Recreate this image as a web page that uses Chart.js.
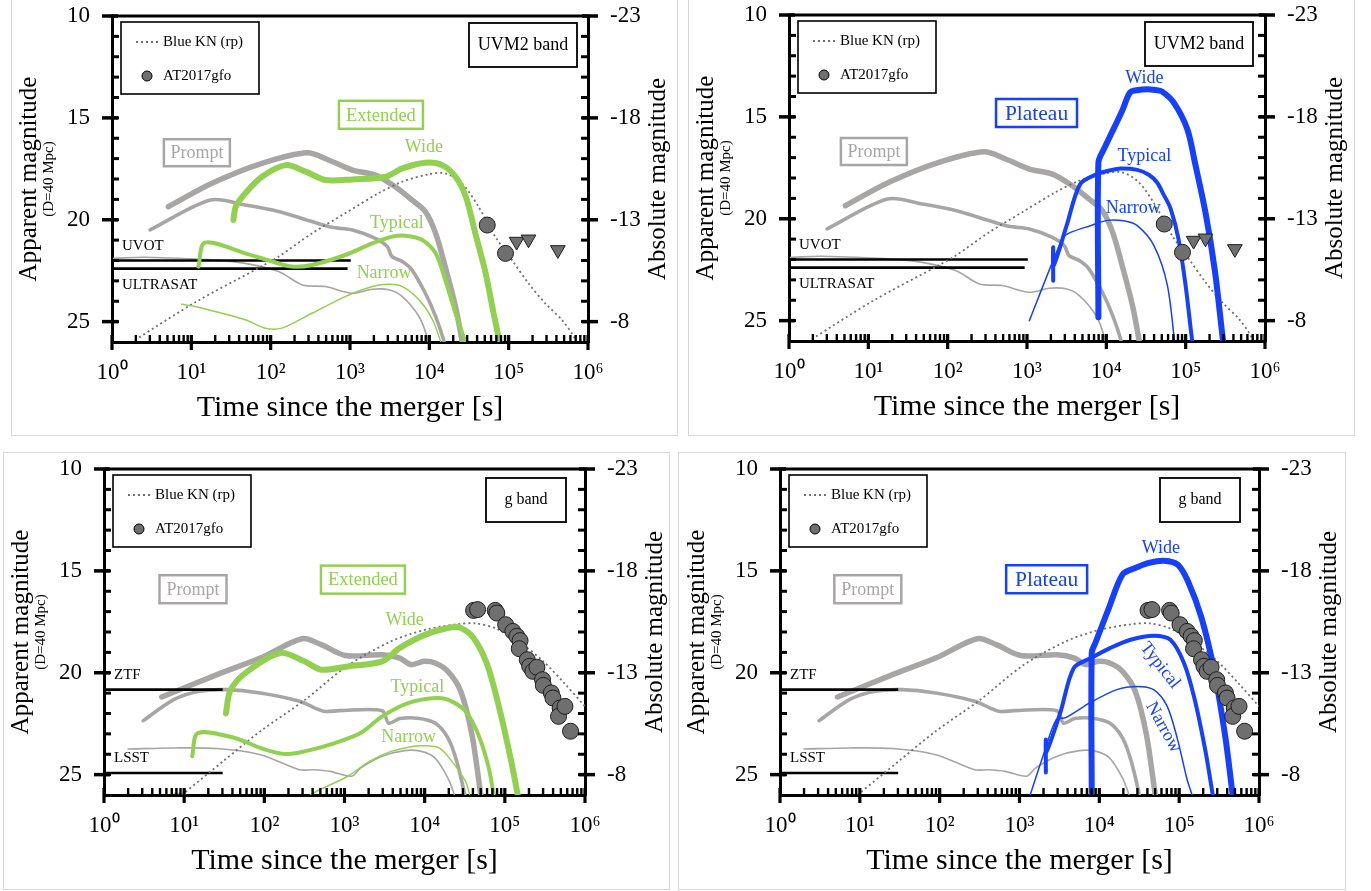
<!DOCTYPE html>
<html>
<head>
<meta charset="utf-8">
<title>GRB afterglow vs kilonova light curves</title>
<script src="https://cdn.jsdelivr.net/npm/chart.js@4.4.1/dist/chart.umd.min.js"></script>
<style>
  body { margin: 0; background: #fff; }
  #page { position: relative; width: 1371px; height: 891px; overflow: hidden; background: #fff; }
  .frame { position: absolute; border: 1px solid #d6d6d6; box-sizing: border-box; }
  canvas { position: absolute; }
</style>
</head>
<body>
<div id="page">
  <div class="frame" style="left:11px;top:-2px;width:667px;height:438px"></div>
  <div class="frame" style="left:688px;top:-2px;width:667px;height:438px"></div>
  <div class="frame" style="left:3px;top:452px;width:667px;height:438px"></div>
  <div class="frame" style="left:678px;top:452px;width:668px;height:438px"></div>
  <canvas id="uvExtended"></canvas>
  <canvas id="uvPlateau"></canvas>
  <canvas id="gExtended"></canvas>
  <canvas id="gPlateau"></canvas>
</div>
<script>
// all curves are [log10(t / s), apparent magnitude]

// axis ticks
const xTickValues = [1, 10, 100, 1000, 1e4, 1e5, 1e6];
const xTickLabels = ['10⁰', '10¹', '10²', '10³', '10⁴', '10⁵', '10⁶'];
const appMagTicks = [10, 15, 20, 25];
const absMagTicks = [-23, -18, -13, -8];

// UVM2 band - prompt emission (gray)
const promptWideUV = [[0.71,19.36],[1.26,18.21],[1.89,17.23],[2.46,16.71],[2.73,17.07],[3.03,17.56],[3.32,17.81],[3.57,18.38],[3.78,19.03],[3.95,19.6],[4.08,20.67],[4.2,22.3],[4.33,24.26],[4.41,25.9],[4.43,26.4]];
const promptTypicalUV = [[0.48,20.5],[1.24,19.03],[1.68,19.28],[2.1,19.6],[2.52,20.09],[2.77,20.37],[3.03,20.5],[3.32,20.91],[3.47,21.32],[3.53,21.81],[3.66,22.05],[3.78,22.46],[3.95,23.61],[4.08,24.75],[4.18,25.9],[4.2,26.4]];
const promptNarrowUV = [[0.02,21.89],[0.42,21.84],[1.26,21.97],[1.68,22.14],[2.1,22.54],[2.4,23.2],[2.69,23.28],[3.03,23.61],[3.28,23.41],[3.49,23.44],[3.66,23.77],[3.87,24.75],[3.97,25.73],[4.0,26.4]];

// UVM2 band - extended emission (green)
const extWideUV = [[1.53,20.01],[1.56,19.36],[1.68,18.7],[1.89,17.89],[2.19,17.32],[2.44,17.64],[2.69,18.05],[3.03,18.02],[3.45,17.89],[3.66,17.48],[3.95,17.2],[4.16,17.32],[4.33,17.89],[4.46,18.87],[4.58,20.67],[4.71,22.63],[4.81,24.59],[4.88,25.9],[4.9,26.4]];
const extTypicalUV = [[1.09,22.3],[1.17,21.12],[1.68,21.65],[2.02,22.05],[2.27,22.3],[2.52,22.22],[2.94,21.73],[3.28,21.16],[3.53,20.83],[3.7,20.78],[3.91,20.99],[4.08,21.65],[4.2,22.95],[4.33,24.59],[4.49,26.4]];
const extNarrowUV = [[0.88,24.15],[1.05,24.26],[1.68,24.91],[1.93,25.32],[2.14,25.32],[2.52,24.59],[2.94,23.77],[3.28,23.28],[3.49,23.17],[3.66,23.28],[3.87,23.93],[4.04,24.91],[4.18,26.4]];

// UVM2 band - plateau emission (blue)
const platWideUV = [[3.9,24.83],[3.9,17.24],[3.97,16.58],[4.09,15.6],[4.2,14.7],[4.3,13.8],[4.4,13.68],[4.51,13.64],[4.62,13.68],[4.7,13.75],[4.85,14.3],[5.02,15.6],[5.12,17.3],[5.25,19.7],[5.37,22.6],[5.47,25.96],[5.49,26.4]];
const platTypicalUV = [[3.33,23.04],[3.33,21.4],[3.335,22.3],[3.5,20.33],[3.67,18.3],[3.88,17.81],[4.05,17.62],[4.18,17.53],[4.39,17.6],[4.54,17.85],[4.64,18.22],[4.72,18.8],[4.81,19.5],[4.91,21.0],[5.0,23.3],[5.08,25.93],[5.1,26.4]];
const platNarrowUV = [[3.03,25.0],[3.32,22.14],[3.46,20.91],[3.55,20.67],[3.8,20.34],[4.01,20.08],[4.22,20.1],[4.39,20.34],[4.6,21.32],[4.77,23.28],[4.87,26.4]];

// UVM2 band - blue kilonova and AT2017gfo
const knUV = [[0.29,25.9],[1.05,24.05],[1.89,22.28],[2.1,21.81],[2.52,20.67],[2.94,19.68],[3.36,18.7],[3.66,18.13],[3.99,17.77],[4.2,17.72],[4.41,18.21],[4.62,19.36],[4.83,20.83],[5.04,21.97],[5.25,23.12],[5.46,24.1],[5.67,24.91],[5.82,25.73],[5.87,26.2]];
const gfoUV = [[4.73,20.26],[4.96,21.65]];
const gfoUVLimits = [[5.1,21.07],[5.25,20.96],[5.62,21.48]];

// UV survey limits
const uvotLimit = [[0,22.0],[3.01,22.0]];
const ultrasatLimit = [[0,22.4],[2.97,22.4]];

// g band - prompt emission (gray)
const promptWideG = [[0.72,21.19],[1.41,20.09],[1.95,19.28],[2.47,18.33],[2.71,18.62],[3.01,19.15],[3.47,19.12],[3.69,19.28],[3.83,19.6],[3.99,19.44],[4.13,19.52],[4.29,19.93],[4.45,20.91],[4.59,23.04],[4.7,25.98],[4.72,26.4]];
const promptTypicalG = [[0.49,22.35],[0.87,21.32],[1.19,20.91],[1.52,20.83],[1.95,20.99],[2.44,21.4],[2.74,21.89],[2.93,21.86],[3.47,21.86],[3.55,22.47],[3.69,22.25],[3.91,22.23],[4.13,22.47],[4.29,23.2],[4.4,24.35],[4.5,25.98],[4.52,26.4]];
const promptNarrowG = [[0.3,23.74],[0.87,23.69],[1.41,23.72],[1.95,24.02],[2.44,24.76],[2.61,24.76],[2.82,24.84],[3.09,25.08],[3.2,24.68],[3.47,24.1],[3.75,23.82],[3.96,23.86],[4.13,24.19],[4.29,25.17],[4.37,25.98],[4.39,26.4]];

// g band - extended emission (green)
const extWideG = [[1.52,22.0],[1.58,20.83],[1.79,19.93],[2.2,19.03],[2.5,19.44],[2.71,19.85],[3.04,19.69],[3.47,19.44],[3.69,18.78],[4.01,18.13],[4.34,17.77],[4.45,17.8],[4.61,18.29],[4.78,19.6],[4.94,21.89],[5.08,24.35],[5.16,25.98],[5.18,26.4]];
const extTypicalG = [[1.1,24.1],[1.17,22.96],[1.63,23.2],[1.95,23.69],[2.25,23.99],[2.5,23.86],[2.88,23.45],[3.2,22.96],[3.47,22.14],[3.8,21.48],[4.13,21.24],[4.29,21.32],[4.51,21.89],[4.67,23.04],[4.8,24.67],[4.86,25.98],[4.88,26.4]];
const extNarrowG = [[0.88,25.93],[1.0,25.95],[1.12,26.4],[2.5,26.4],[2.58,25.98],[3.04,25.08],[3.31,24.35],[3.58,23.86],[3.86,23.61],[3.96,23.58],[4.18,23.69],[4.34,24.35],[4.51,25.33],[4.56,25.98],[4.58,26.4]];

// g band - plateau emission (blue)
const platWideG = [[3.905,26.4],[3.905,19.0],[3.95,18.54],[4.12,16.82],[4.29,15.18],[4.45,14.86],[4.62,14.61],[4.81,14.5],[4.98,14.69],[5.11,15.51],[5.28,17.31],[5.44,19.93],[5.58,23.2],[5.67,25.98],[5.69,26.4]];
const platTypicalG = [[3.33,24.89],[3.33,23.28],[3.335,23.9],[3.51,21.97],[3.68,19.77],[3.9,19.27],[4.14,18.78],[4.39,18.38],[4.68,18.18],[4.89,18.38],[5.06,19.52],[5.19,21.24],[5.33,23.86],[5.42,25.98],[5.44,26.4]];
const platNarrowG = [[3.1,26.4],[3.3,24.02],[3.46,22.3],[3.58,22.2],[3.88,21.48],[4.22,20.83],[4.47,20.67],[4.68,20.83],[4.85,21.65],[4.98,23.28],[5.1,25.25],[5.16,25.98],[5.18,26.4]];

// g band - blue kilonova and AT2017gfo
const knG = [[0.97,26.0],[1.5,24.3],[1.95,22.87],[2.5,21.35],[3.04,19.65],[3.58,18.46],[4.0,17.9],[4.4,17.62],[4.64,17.58],[4.9,17.85],[5.2,18.55],[5.48,19.44],[5.75,20.55],[6.0,21.65]];
const gfoG = [[4.61,16.94],[4.66,16.9],[4.88,16.94],[4.9,17.07],[5.01,17.64],[5.1,17.97],[5.15,18.21],[5.19,18.42],[5.18,18.82],[5.28,19.36],[5.31,19.68],[5.35,19.93],[5.4,19.73],[5.47,20.34],[5.48,20.62],[5.58,20.99],[5.6,21.24],[5.69,21.73],[5.67,22.14],[5.75,21.65],[5.82,22.87]];

// optical survey limits
const ztfLimit = [[0,20.83],[1.48,20.83]];
const lsstLimit = [[0,24.92],[1.48,24.92]];

const FONT = '"Liberation Serif", "Times New Roman", serif';
const GRAY = '#a8a5a5';
const GREEN = '#92d050';
const BLUE = '#1540ff';
const KN_COLOR = '#707070';
const OBS_FILL = '#6f6f6f';

const LEFT_W = 100, RIGHT_W = 88, TOP_PAD = 15, BOTTOM_H = 90;

Chart.defaults.font.family = FONT;
Chart.defaults.color = '#000';

function pts(arr) {
  return arr.map(([lt, m]) => ({ x: Math.pow(10, lt), y: m }));
}

function curve(label, arr, color, width, extra) {
  return Object.assign({
    label: label, data: pts(arr), borderColor: color, backgroundColor: color,
    borderWidth: width, pointRadius: 0, tension: 0.3, fill: false, clip: 0,
    borderCapStyle: 'round', borderJoinStyle: 'round'
  }, extra || {});
}

function markers(label, arr, style, radius) {
  return {
    label: label, data: pts(arr), showLine: false, pointStyle: style,
    pointRadius: radius, rotation: style === 'triangle' ? 180 : 0,
    pointBackgroundColor: OBS_FILL, pointBorderColor: '#1e1e1e', pointBorderWidth: 1, clip: false
  };
}

function knCurve(arr) {
  return curve('Blue KN (rp)', arr, KN_COLOR, 1.8, { borderDash: [2, 3], tension: 0.3, borderCapStyle: 'butt' });
}

function limitLine(label, arr) {
  return curve(label, arr, '#000', 2.6, { tension: 0, borderCapStyle: 'butt' });
}

// vertical axes: keep the label half-heights out of the layout
function fitVertical(width) {
  return s => { s.width = width; s.paddingTop = 0; s.paddingBottom = 0; };
}

// ticks, frame, legend and text annotations
const panelDecor = {
  id: 'panelDecor',
  afterDatasetsDraw(chart, args, o) {
    const { ctx, chartArea: a } = chart;
    const { x, y, y2 } = chart.scales;
    const seg = (x1, y1, x2, yy2, w) => {
      ctx.lineWidth = w; ctx.beginPath(); ctx.moveTo(x1, y1); ctx.lineTo(x2, yy2); ctx.stroke();
    };
    ctx.save();
    ctx.strokeStyle = '#000';
    ctx.lineCap = 'butt';
    seg(a.left - 1.5, a.top, a.right + 1.5, a.top, 3);

    // log minor ticks point inward, decades cross the axis
    for (let d = 0; d < 6; d++) {
      for (let k = 2; k < 10; k++) {
        const px = x.getPixelForValue(k * Math.pow(10, d));
        seg(px, a.bottom, px, a.bottom - 7, 2.4);
      }
    }
    x.ticks.forEach(t => {
      const px = x.getPixelForValue(t.value);
      seg(px, a.bottom + 8, px, a.bottom - 7, 3.2);
    });
    for (let m = y.min + 1; m < y.max; m++) {
      const py = y.getPixelForValue(m);
      seg(a.left, py, a.left + 7, py, 3);
      seg(a.right, py, a.right - 7, py, 3);
    }
    y.ticks.forEach(t => {
      const py = y.getPixelForValue(t.value);
      seg(a.left - 10, py, a.left + 6, py, 3.5);
    });
    y2.ticks.forEach(t => {
      const py = y2.getPixelForValue(t.value);
      seg(a.right + 10, py, a.right - 6, py, 3.5);
    });

    ctx.textBaseline = 'middle';
    ctx.fillStyle = '#000';

    // rotated side texts, both reading bottom to top
    const side = (text, px, size) => {
      ctx.save();
      ctx.translate(px, (a.top + a.bottom) / 2);
      ctx.rotate(-Math.PI / 2);
      ctx.textAlign = 'center';
      ctx.font = size + 'px ' + FONT;
      ctx.fillText(text, 0, 0);
      ctx.restore();
    };
    side('(D=40 Mpc)', a.left - 63, 15);
    side('Absolute magnitude', a.right + 70, 25);

    // legend box
    const lx = a.left + 9, ly = a.top + 6;
    ctx.lineWidth = 1.6;
    ctx.strokeRect(lx, ly, 138, 72);
    const kn = chart.data.datasets.find(d => d.label === 'Blue KN (rp)');
    ctx.save();
    ctx.strokeStyle = kn.borderColor;
    ctx.setLineDash(kn.borderDash);
    seg(lx + 15, ly + 20, lx + 37, ly + 20, kn.borderWidth);
    ctx.restore();
    ctx.beginPath();
    ctx.arc(lx + 26, ly + 54, 5, 0, Math.PI * 2);
    ctx.fillStyle = OBS_FILL; ctx.fill();
    ctx.lineWidth = 1; ctx.stroke();
    ctx.fillStyle = '#000';
    ctx.textAlign = 'left';
    ctx.font = '15px ' + FONT;
    ctx.fillText(kn.label, lx + 42, ly + 20);
    ctx.fillText('AT2017gfo', lx + 42, ly + 54);

    // band box
    const b = o.band;
    ctx.lineWidth = 1.8;
    ctx.strokeRect(a.right - b.right - b.w, a.top + b.top, b.w, b.h);
    ctx.textAlign = 'center';
    ctx.font = b.size + 'px ' + FONT;
    ctx.fillText(b.text, a.right - b.right - b.w / 2, a.top + b.top + b.h / 2);

    // component boxes
    o.boxes.forEach(bx => {
      const cx = x.getPixelForValue(Math.pow(10, bx.lt));
      const cy = y.getPixelForValue(bx.mag);
      ctx.strokeStyle = bx.color;
      ctx.lineWidth = 2.5;
      ctx.strokeRect(cx - bx.w / 2, cy - bx.h / 2, bx.w, bx.h);
      ctx.fillStyle = bx.color;
      ctx.font = bx.size + 'px ' + FONT;
      ctx.fillText(bx.text, cx, cy + 1);
    });

    // curve labels
    o.labels.forEach(lb => {
      ctx.save();
      ctx.translate(x.getPixelForValue(Math.pow(10, lb.lt)), y.getPixelForValue(lb.mag));
      if (lb.rot) ctx.rotate(lb.rot * Math.PI / 180);
      ctx.fillStyle = lb.color;
      ctx.textAlign = 'center';
      ctx.font = '18px ' + FONT;
      ctx.fillText(lb.text, 0, 0);
      ctx.restore();
    });

    // survey limit names
    ctx.fillStyle = '#000';
    ctx.textAlign = 'left';
    ctx.font = '15px ' + FONT;
    o.limits.forEach(lm => ctx.fillText(lm.text, a.left + 10, y.getPixelForValue(lm.mag)));
    ctx.restore();
  }
};

function makePanel(id, plotBox, datasets, decor) {
  const [pl, pt, pw, ph] = plotBox;
  const canvas = document.getElementById(id);
  canvas.width = LEFT_W + pw + RIGHT_W;
  canvas.height = TOP_PAD + ph + BOTTOM_H;
  canvas.style.left = (pl - LEFT_W) + 'px';
  canvas.style.top = (pt - TOP_PAD) + 'px';
  const noGrid = { display: false, drawTicks: false };
  const edge = { display: true, width: 3, color: '#000' };
  new Chart(canvas, {
    type: 'line',
    data: { datasets: datasets },
    options: {
      responsive: false,
      animation: false,
      events: [],
      layout: { padding: { top: TOP_PAD, left: 0, right: 0, bottom: 0 } },
      plugins: { legend: { display: false }, tooltip: { enabled: false }, panelDecor: decor },
      scales: {
        x: {
          type: 'logarithmic', position: 'bottom', min: 1, max: 1e6,
          grid: noGrid, border: edge,
          afterBuildTicks: s => { s.ticks = xTickValues.map(v => ({ value: v })); },
          afterFit: s => { s.height = BOTTOM_H; },
          ticks: { autoSkip: false, maxRotation: 0, minRotation: 0, padding: 17, color: '#000',
                   font: { size: 23 }, callback: (v, i) => xTickLabels[i] },
          title: { display: true, text: 'Time since the merger [s]', color: '#000',
                   font: { size: 30 }, padding: { top: 0, bottom: 6 } }
        },
        y: {
          type: 'linear', position: 'left', min: 10, max: 26, reverse: true,
          grid: noGrid, border: edge,
          afterBuildTicks: s => { s.ticks = appMagTicks.map(v => ({ value: v })); },
          afterFit: fitVertical(LEFT_W),
          ticks: { autoSkip: false, padding: 22, color: '#000', font: { size: 23 }, callback: v => String(v) },
          title: { display: true, text: 'Apparent magnitude', color: '#000',
                   font: { size: 25 }, padding: { top: 2.5, bottom: 0 } }
        },
        y2: {
          type: 'linear', position: 'right', min: -23, max: -7, reverse: true,
          grid: noGrid, border: edge,
          afterBuildTicks: s => { s.ticks = absMagTicks.map(v => ({ value: v })); },
          afterFit: fitVertical(RIGHT_W),
          ticks: { autoSkip: false, padding: 22, color: '#000', font: { size: 23 }, callback: v => String(v) },
          title: { display: false }
        }
      }
    },
    plugins: [panelDecor]
  });
}

// UVM2, extended emission
makePanel('uvExtended', [112, 16, 476, 326], [
  markers('AT2017gfo', gfoUV, 'circle', 8),
  markers('AT2017gfo limits', gfoUVLimits, 'triangle', 8.5),
  curve('Extended wide', extWideUV, GREEN, 6),
  curve('Extended typical', extTypicalUV, GREEN, 4),
  curve('Extended narrow', extNarrowUV, GREEN, 1.5),
  knCurve(knUV),
  limitLine('UVOT', uvotLimit),
  limitLine('ULTRASAT', ultrasatLimit),
  curve('Prompt narrow', promptNarrowUV, GRAY, 1.6),
  curve('Prompt typical', promptTypicalUV, GRAY, 3.6),
  curve('Prompt wide', promptWideUV, GRAY, 5.5)
], {
  band: { text: 'UVM2 band', w: 108, h: 44, right: 11, top: 7, size: 18 },
  boxes: [
    { text: 'Prompt', lt: 1.07, mag: 16.71, w: 66, h: 27, color: GRAY, size: 18 },
    { text: 'Extended', lt: 3.39, mag: 14.85, w: 84, h: 28, color: GREEN, size: 18.5 }
  ],
  labels: [
    { text: 'Wide', lt: 3.93, mag: 16.45, color: GREEN },
    { text: 'Typical', lt: 3.59, mag: 20.17, color: GREEN },
    { text: 'Narrow', lt: 3.43, mag: 22.63, color: GREEN }
  ],
  limits: [{ text: 'UVOT', mag: 21.27 }, { text: 'ULTRASAT', mag: 23.2 }]
});

// UVM2, plateau emission
makePanel('uvPlateau', [789, 15, 476, 326], [
  markers('AT2017gfo', gfoUV, 'circle', 8),
  markers('AT2017gfo limits', gfoUVLimits, 'triangle', 8.5),
  curve('Plateau wide', platWideUV, BLUE, 6),
  curve('Plateau typical', platTypicalUV, BLUE, 4),
  curve('Plateau narrow', platNarrowUV, BLUE, 1.5),
  knCurve(knUV),
  limitLine('UVOT', uvotLimit),
  limitLine('ULTRASAT', ultrasatLimit),
  curve('Prompt narrow', promptNarrowUV, GRAY, 1.6),
  curve('Prompt typical', promptTypicalUV, GRAY, 3.6),
  curve('Prompt wide', promptWideUV, GRAY, 5.5)
], {
  band: { text: 'UVM2 band', w: 108, h: 44, right: 12, top: 7, size: 18 },
  boxes: [
    { text: 'Prompt', lt: 1.07, mag: 16.7, w: 66, h: 27, color: GRAY, size: 18 },
    { text: 'Plateau', lt: 3.12, mag: 14.81, w: 81, h: 28, color: BLUE, size: 21.5 }
  ],
  labels: [
    { text: 'Wide', lt: 4.48, mag: 13.1, color: BLUE },
    { text: 'Typical', lt: 4.48, mag: 16.91, color: BLUE },
    { text: 'Narrow', lt: 4.34, mag: 19.49, color: BLUE }
  ],
  limits: [{ text: 'UVOT', mag: 21.27 }, { text: 'ULTRASAT', mag: 23.2 }]
});

// g band, extended emission
makePanel('gExtended', [104, 469, 481, 326], [
  markers('AT2017gfo', gfoG, 'circle', 8),
  curve('Extended wide', extWideG, GREEN, 6),
  curve('Extended typical', extTypicalG, GREEN, 4),
  curve('Extended narrow', extNarrowG, GREEN, 1.5),
  knCurve(knG),
  limitLine('ZTF', ztfLimit),
  limitLine('LSST', lsstLimit),
  curve('Prompt narrow', promptNarrowG, GRAY, 1.6),
  curve('Prompt typical', promptTypicalG, GRAY, 3.6),
  curve('Prompt wide', promptWideG, GRAY, 5.5)
], {
  band: { text: 'g band', w: 80, h: 44, right: 19, top: 9, size: 16 },
  boxes: [
    { text: 'Prompt', lt: 1.11, mag: 15.9, w: 67, h: 28, color: GRAY, size: 18 },
    { text: 'Extended', lt: 3.23, mag: 15.43, w: 84, h: 28, color: GREEN, size: 18.5 }
  ],
  labels: [
    { text: 'Wide', lt: 3.75, mag: 17.44, color: GREEN },
    { text: 'Typical', lt: 3.91, mag: 20.7, color: GREEN },
    { text: 'Narrow', lt: 3.8, mag: 23.15, color: GREEN }
  ],
  limits: [{ text: 'ZTF', mag: 20.13 }, { text: 'LSST', mag: 24.18 }]
});

// g band, plateau emission
makePanel('gPlateau', [780, 469, 479, 326], [
  markers('AT2017gfo', gfoG, 'circle', 8),
  curve('Plateau wide', platWideG, BLUE, 6),
  curve('Plateau typical', platTypicalG, BLUE, 4),
  curve('Plateau narrow', platNarrowG, BLUE, 1.5),
  knCurve(knG),
  limitLine('ZTF', ztfLimit),
  limitLine('LSST', lsstLimit),
  curve('Prompt narrow', promptNarrowG, GRAY, 1.6),
  curve('Prompt typical', promptTypicalG, GRAY, 3.6),
  curve('Prompt wide', promptWideG, GRAY, 5.5)
], {
  band: { text: 'g band', w: 80, h: 44, right: 19, top: 9, size: 16 },
  boxes: [
    { text: 'Prompt', lt: 1.1, mag: 15.9, w: 67, h: 28, color: GRAY, size: 18 },
    { text: 'Plateau', lt: 3.34, mag: 15.41, w: 81, h: 28, color: BLUE, size: 21.5 }
  ],
  labels: [
    { text: 'Wide', lt: 4.77, mag: 13.88, color: BLUE },
    { text: 'Typical', lt: 4.76, mag: 19.64, color: BLUE, rot: 52 },
    { text: 'Narrow', lt: 4.8, mag: 22.68, color: BLUE, rot: 61 }
  ],
  limits: [{ text: 'ZTF', mag: 20.13 }, { text: 'LSST', mag: 24.18 }]
});
</script>
</body>
</html>
